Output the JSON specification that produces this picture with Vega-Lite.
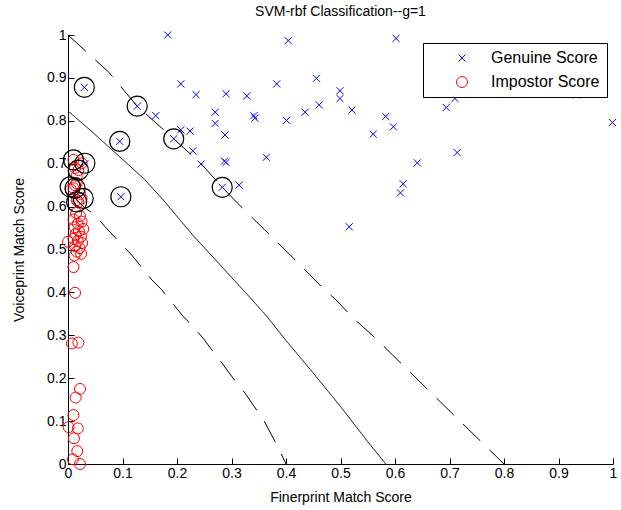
{
  "$schema": "https://vega.github.io/schema/vega-lite/v6.json",
  "width": 545,
  "height": 429,
  "autosize": {"type": "none"},
  "padding": {"left": 68, "top": 35, "right": 8, "bottom": 46},
  "background": "white",
  "title": {"text": "SVM-rbf Classification--g=1", "fontSize": 14, "fontWeight": "normal", "font": "Liberation Sans", "color": "black", "offset": 9, "anchor": "middle"},
  "config": {
    "view": {"stroke": null},
    "axis": {"domainColor": "black", "tickColor": "black", "tickSize": -6, "labelColor": "black", "labelFontSize": 14, "labelFont": "Liberation Sans", "grid": false, "titleFontSize": 14, "titleFontWeight": "normal", "titleFont": "Liberation Sans", "titleColor": "black", "labelFlush": false, "labelOverlap": false, "labelPadding": 8},
    "legend": {"orient": "none", "legendX": 355, "legendY": 8, "strokeColor": "black", "fillColor": "white", "padding": 7, "labelFontSize": 16, "labelFont": "Liberation Sans", "labelColor": "black", "symbolSize": 80, "symbolStrokeWidth": 1, "rowPadding": 8, "symbolOffset": 24, "labelOffset": 21, "zindex": 1, "cornerRadius": 0}
  },
  "datasets": {
    "scores": [
      {"finger": 0.183, "voice": 1.0, "type": "Genuine Score"},
      {"finger": 0.030, "voice": 0.878, "type": "Genuine Score"},
      {"finger": 0.127, "voice": 0.834, "type": "Genuine Score"},
      {"finger": 0.161, "voice": 0.812, "type": "Genuine Score"},
      {"finger": 0.207, "voice": 0.886, "type": "Genuine Score"},
      {"finger": 0.235, "voice": 0.861, "type": "Genuine Score"},
      {"finger": 0.404, "voice": 0.987, "type": "Genuine Score"},
      {"finger": 0.383, "voice": 0.886, "type": "Genuine Score"},
      {"finger": 0.456, "voice": 0.899, "type": "Genuine Score"},
      {"finger": 0.290, "voice": 0.863, "type": "Genuine Score"},
      {"finger": 0.328, "voice": 0.858, "type": "Genuine Score"},
      {"finger": 0.461, "voice": 0.837, "type": "Genuine Score"},
      {"finger": 0.435, "voice": 0.820, "type": "Genuine Score"},
      {"finger": 0.270, "voice": 0.820, "type": "Genuine Score"},
      {"finger": 0.270, "voice": 0.794, "type": "Genuine Score"},
      {"finger": 0.341, "voice": 0.812, "type": "Genuine Score"},
      {"finger": 0.343, "voice": 0.806, "type": "Genuine Score"},
      {"finger": 0.401, "voice": 0.801, "type": "Genuine Score"},
      {"finger": 0.288, "voice": 0.767, "type": "Genuine Score"},
      {"finger": 0.207, "voice": 0.779, "type": "Genuine Score"},
      {"finger": 0.224, "voice": 0.776, "type": "Genuine Score"},
      {"finger": 0.602, "voice": 0.992, "type": "Genuine Score"},
      {"finger": 0.499, "voice": 0.870, "type": "Genuine Score"},
      {"finger": 0.499, "voice": 0.852, "type": "Genuine Score"},
      {"finger": 0.521, "voice": 0.825, "type": "Genuine Score"},
      {"finger": 0.583, "voice": 0.810, "type": "Genuine Score"},
      {"finger": 0.597, "voice": 0.786, "type": "Genuine Score"},
      {"finger": 0.560, "voice": 0.769, "type": "Genuine Score"},
      {"finger": 0.694, "voice": 0.831, "type": "Genuine Score"},
      {"finger": 0.710, "voice": 0.852, "type": "Genuine Score"},
      {"finger": 0.999, "voice": 0.796, "type": "Genuine Score"},
      {"finger": 0.933, "voice": 0.860, "type": "Genuine Score"},
      {"finger": 0.714, "voice": 0.726, "type": "Genuine Score"},
      {"finger": 0.364, "voice": 0.715, "type": "Genuine Score"},
      {"finger": 0.641, "voice": 0.702, "type": "Genuine Score"},
      {"finger": 0.615, "voice": 0.653, "type": "Genuine Score"},
      {"finger": 0.610, "voice": 0.632, "type": "Genuine Score"},
      {"finger": 0.287, "voice": 0.706, "type": "Genuine Score"},
      {"finger": 0.290, "voice": 0.703, "type": "Genuine Score"},
      {"finger": 0.244, "voice": 0.699, "type": "Genuine Score"},
      {"finger": 0.229, "voice": 0.730, "type": "Genuine Score"},
      {"finger": 0.283, "voice": 0.645, "type": "Genuine Score"},
      {"finger": 0.314, "voice": 0.650, "type": "Genuine Score"},
      {"finger": 0.194, "voice": 0.758, "type": "Genuine Score"},
      {"finger": 0.095, "voice": 0.752, "type": "Genuine Score"},
      {"finger": 0.516, "voice": 0.553, "type": "Genuine Score"},
      {"finger": 0.097, "voice": 0.623, "type": "Genuine Score"},
      {"finger": 0.031, "voice": 0.700, "type": "Genuine Score"},
      {"finger": 0.010, "voice": 0.709, "type": "Impostor Score"},
      {"finger": 0.025, "voice": 0.701, "type": "Impostor Score"},
      {"finger": 0.019, "voice": 0.685, "type": "Impostor Score"},
      {"finger": 0.013, "voice": 0.690, "type": "Impostor Score"},
      {"finger": 0.016, "voice": 0.672, "type": "Impostor Score"},
      {"finger": 0.010, "voice": 0.643, "type": "Impostor Score"},
      {"finger": 0.016, "voice": 0.655, "type": "Impostor Score"},
      {"finger": 0.005, "voice": 0.640, "type": "Impostor Score"},
      {"finger": 0.025, "voice": 0.619, "type": "Impostor Score"},
      {"finger": 0.016, "voice": 0.615, "type": "Impostor Score"},
      {"finger": 0.019, "voice": 0.611, "type": "Impostor Score"},
      {"finger": 0.013, "voice": 0.650, "type": "Impostor Score"},
      {"finger": 0.022, "voice": 0.630, "type": "Impostor Score"},
      {"finger": 0.015, "voice": 0.585, "type": "Impostor Score"},
      {"finger": 0.022, "voice": 0.578, "type": "Impostor Score"},
      {"finger": 0.010, "voice": 0.570, "type": "Impostor Score"},
      {"finger": 0.025, "voice": 0.565, "type": "Impostor Score"},
      {"finger": 0.018, "voice": 0.560, "type": "Impostor Score"},
      {"finger": 0.012, "voice": 0.552, "type": "Impostor Score"},
      {"finger": 0.028, "voice": 0.548, "type": "Impostor Score"},
      {"finger": 0.020, "voice": 0.543, "type": "Impostor Score"},
      {"finger": 0.014, "voice": 0.536, "type": "Impostor Score"},
      {"finger": 0.024, "voice": 0.530, "type": "Impostor Score"},
      {"finger": 0.010, "voice": 0.525, "type": "Impostor Score"},
      {"finger": 0.018, "voice": 0.520, "type": "Impostor Score"},
      {"finger": 0.026, "voice": 0.515, "type": "Impostor Score"},
      {"finger": 0.013, "voice": 0.508, "type": "Impostor Score"},
      {"finger": 0.021, "voice": 0.503, "type": "Impostor Score"},
      {"finger": 0.016, "voice": 0.495, "type": "Impostor Score"},
      {"finger": 0.024, "voice": 0.490, "type": "Impostor Score"},
      {"finger": 0.012, "voice": 0.486, "type": "Impostor Score"},
      {"finger": 0.000, "voice": 0.518, "type": "Impostor Score"},
      {"finger": 0.010, "voice": 0.459, "type": "Impostor Score"},
      {"finger": 0.013, "voice": 0.399, "type": "Impostor Score"},
      {"finger": 0.007, "voice": 0.281, "type": "Impostor Score"},
      {"finger": 0.019, "voice": 0.283, "type": "Impostor Score"},
      {"finger": 0.022, "voice": 0.175, "type": "Impostor Score"},
      {"finger": 0.014, "voice": 0.155, "type": "Impostor Score"},
      {"finger": 0.010, "voice": 0.114, "type": "Impostor Score"},
      {"finger": 0.001, "voice": 0.086, "type": "Impostor Score"},
      {"finger": 0.018, "voice": 0.083, "type": "Impostor Score"},
      {"finger": 0.011, "voice": 0.060, "type": "Impostor Score"},
      {"finger": 0.017, "voice": 0.030, "type": "Impostor Score"},
      {"finger": 0.009, "voice": 0.011, "type": "Impostor Score"},
      {"finger": 0.022, "voice": 0.000, "type": "Impostor Score"}
    ],
    "sv": [
      {"finger": 0.030, "voice": 0.878},
      {"finger": 0.127, "voice": 0.834},
      {"finger": 0.095, "voice": 0.752},
      {"finger": 0.194, "voice": 0.758},
      {"finger": 0.097, "voice": 0.623},
      {"finger": 0.283, "voice": 0.645},
      {"finger": 0.010, "voice": 0.709},
      {"finger": 0.031, "voice": 0.701},
      {"finger": 0.019, "voice": 0.685},
      {"finger": 0.013, "voice": 0.643},
      {"finger": 0.004, "voice": 0.646},
      {"finger": 0.028, "voice": 0.619},
      {"finger": 0.016, "voice": 0.611}
    ],
    "lines": [
      {"curve": "upper", "kind": "margin", "i": 0, "finger": 0.0, "voice": 1.0},
      {"curve": "upper", "kind": "margin", "i": 1, "finger": 0.075, "voice": 0.913},
      {"curve": "upper", "kind": "margin", "i": 2, "finger": 0.127, "voice": 0.834},
      {"curve": "upper", "kind": "margin", "i": 3, "finger": 0.194, "voice": 0.758},
      {"curve": "upper", "kind": "margin", "i": 4, "finger": 0.245, "voice": 0.699},
      {"curve": "upper", "kind": "margin", "i": 5, "finger": 0.283, "voice": 0.645},
      {"curve": "upper", "kind": "margin", "i": 6, "finger": 0.311, "voice": 0.608},
      {"curve": "upper", "kind": "margin", "i": 7, "finger": 0.360, "voice": 0.547},
      {"curve": "upper", "kind": "margin", "i": 8, "finger": 0.423, "voice": 0.468},
      {"curve": "upper", "kind": "margin", "i": 9, "finger": 0.473, "voice": 0.403},
      {"curve": "upper", "kind": "margin", "i": 10, "finger": 0.489, "voice": 0.386},
      {"curve": "upper", "kind": "margin", "i": 11, "finger": 0.521, "voice": 0.343},
      {"curve": "upper", "kind": "margin", "i": 12, "finger": 0.566, "voice": 0.291},
      {"curve": "upper", "kind": "margin", "i": 13, "finger": 0.683, "voice": 0.145},
      {"curve": "upper", "kind": "margin", "i": 14, "finger": 0.8, "voice": 0.0},
      {"curve": "mid", "kind": "boundary", "i": 0, "finger": 0.0, "voice": 0.823},
      {"curve": "mid", "kind": "boundary", "i": 1, "finger": 0.040, "voice": 0.779},
      {"curve": "mid", "kind": "boundary", "i": 2, "finger": 0.108, "voice": 0.701},
      {"curve": "mid", "kind": "boundary", "i": 3, "finger": 0.140, "voice": 0.664},
      {"curve": "mid", "kind": "boundary", "i": 4, "finger": 0.175, "voice": 0.615},
      {"curve": "mid", "kind": "boundary", "i": 5, "finger": 0.230, "voice": 0.532},
      {"curve": "mid", "kind": "boundary", "i": 6, "finger": 0.285, "voice": 0.456},
      {"curve": "mid", "kind": "boundary", "i": 7, "finger": 0.334, "voice": 0.388},
      {"curve": "mid", "kind": "boundary", "i": 8, "finger": 0.365, "voice": 0.344},
      {"curve": "mid", "kind": "boundary", "i": 9, "finger": 0.398, "voice": 0.291},
      {"curve": "mid", "kind": "boundary", "i": 10, "finger": 0.450, "voice": 0.212},
      {"curve": "mid", "kind": "boundary", "i": 11, "finger": 0.500, "voice": 0.134},
      {"curve": "mid", "kind": "boundary", "i": 12, "finger": 0.550, "voice": 0.052},
      {"curve": "mid", "kind": "boundary", "i": 13, "finger": 0.583, "voice": 0.0},
      {"curve": "lower", "kind": "margin", "i": 0, "finger": 0.010, "voice": 0.625},
      {"curve": "lower", "kind": "margin", "i": 1, "finger": 0.028, "voice": 0.600},
      {"curve": "lower", "kind": "margin", "i": 2, "finger": 0.050, "voice": 0.580},
      {"curve": "lower", "kind": "margin", "i": 3, "finger": 0.068, "voice": 0.553},
      {"curve": "lower", "kind": "margin", "i": 4, "finger": 0.099, "voice": 0.511},
      {"curve": "lower", "kind": "margin", "i": 5, "finger": 0.117, "voice": 0.487},
      {"curve": "lower", "kind": "margin", "i": 6, "finger": 0.154, "voice": 0.429},
      {"curve": "lower", "kind": "margin", "i": 7, "finger": 0.172, "voice": 0.406},
      {"curve": "lower", "kind": "margin", "i": 8, "finger": 0.212, "voice": 0.343},
      {"curve": "lower", "kind": "margin", "i": 9, "finger": 0.227, "voice": 0.324},
      {"curve": "lower", "kind": "margin", "i": 10, "finger": 0.248, "voice": 0.293},
      {"curve": "lower", "kind": "margin", "i": 11, "finger": 0.264, "voice": 0.266},
      {"curve": "lower", "kind": "margin", "i": 12, "finger": 0.279, "voice": 0.241},
      {"curve": "lower", "kind": "margin", "i": 13, "finger": 0.310, "voice": 0.188},
      {"curve": "lower", "kind": "margin", "i": 14, "finger": 0.325, "voice": 0.165},
      {"curve": "lower", "kind": "margin", "i": 15, "finger": 0.360, "voice": 0.100},
      {"curve": "lower", "kind": "margin", "i": 16, "finger": 0.385, "voice": 0.040},
      {"curve": "lower", "kind": "margin", "i": 17, "finger": 0.400, "voice": 0.0}
    ]
  },
  "encoding": {
    "x": {"field": "finger", "type": "quantitative", "scale": {"domain": [0, 1], "nice": false, "zero": false},
      "axis": {"title": "Finerprint Match Score", "values": [0, 0.1, 0.2, 0.3, 0.4, 0.5, 0.6, 0.7, 0.8, 0.9, 1], "labelExpr": "'' + (round(datum.value * 10) / 10)", "titlePadding": 10}},
    "y": {"field": "voice", "type": "quantitative", "scale": {"domain": [0, 1], "nice": false, "zero": false},
      "axis": {"title": "Voiceprint Match Score", "values": [0, 0.1, 0.2, 0.3, 0.4, 0.5, 0.6, 0.7, 0.8, 0.9, 1], "labelExpr": "'' + (round(datum.value * 10) / 10)", "titlePadding": 20}}
  },
  "layer": [
    {
      "data": {"name": "scores"},
      "mark": {"type": "point", "filled": false, "strokeWidth": 1, "opacity": 1},
      "encoding": {
        "color": {"field": "type", "type": "nominal", "scale": {"domain": ["Genuine Score", "Impostor Score"], "range": ["#0000ff", "#ff0000"]}, "legend": {"title": null}},
        "shape": {"field": "type", "type": "nominal", "scale": {"domain": ["Genuine Score", "Impostor Score"], "range": ["M-1,-1L1,1M-1,1L1,-1", "circle"]}, "legend": {"title": null}},
        "size": {"field": "type", "type": "nominal", "scale": {"domain": ["Genuine Score", "Impostor Score"], "range": [50, 120]}, "legend": null}
      }
    },
    {
      "data": {"name": "sv"},
      "mark": {"type": "point", "shape": "circle", "filled": false, "color": "black", "size": 400, "strokeWidth": 1.2, "opacity": 1}
    },
    {
      "data": {"name": "lines"},
      "mark": {"type": "line", "color": "black", "strokeWidth": 1},
      "encoding": {
        "detail": {"field": "curve", "type": "nominal"},
        "order": {"field": "i", "type": "quantitative"},
        "strokeDash": {"field": "kind", "type": "nominal", "scale": {"domain": ["boundary", "margin"], "range": [[1, 0], [24, 13]]}, "legend": null}
      }
    }
  ]
}
